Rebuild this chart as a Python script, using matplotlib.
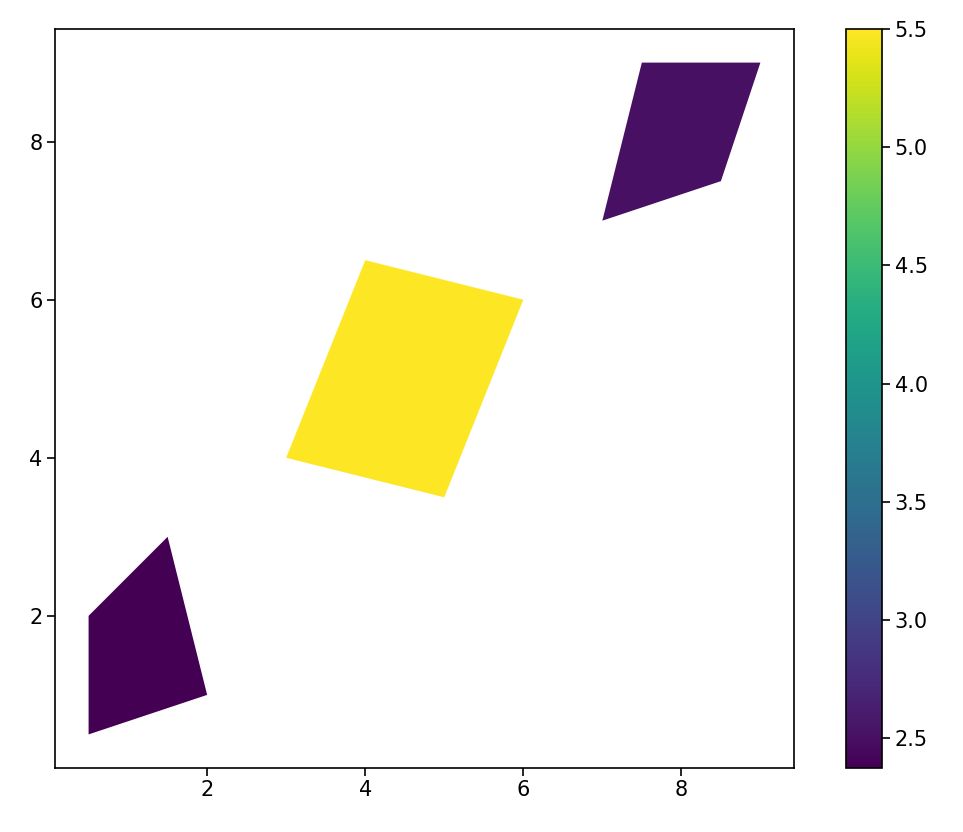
import numpy as np
import matplotlib
matplotlib.use("Agg")
import matplotlib.pyplot as plt
from matplotlib.collections import PolyCollection

# polygon vertices (x, y)
poly_a = [(0.5, 2), (1.5, 3), (2, 1), (0.5, 0.5)]
poly_b = [(3, 4), (4, 6.5), (6, 6), (5, 3.5)]
poly_c = [(7, 7), (7.5, 9), (9, 9), (8.5, 7.5)]
values = [2.375, 5.5, 2.5]

fig = plt.figure(figsize=(9.63, 8.32), dpi=100)
ax = fig.add_axes([55 / 963, 64 / 832, 739 / 963, 739 / 832])
cax = fig.add_axes([846 / 963, 64 / 832, 36 / 963, 739 / 832])

coll = PolyCollection([poly_a, poly_b, poly_c], array=np.array(values), cmap="viridis")
ax.add_collection(coll)
ax.autoscale_view()

for a in (ax, cax):
    a.tick_params(labelsize=15, length=5.5, width=1.2)
    for s in a.spines.values():
        s.set_linewidth(1.2)

cb = fig.colorbar(coll, cax=cax)
cb.outline.set_linewidth(1.2)

fig.savefig("out.png", dpi=100)
